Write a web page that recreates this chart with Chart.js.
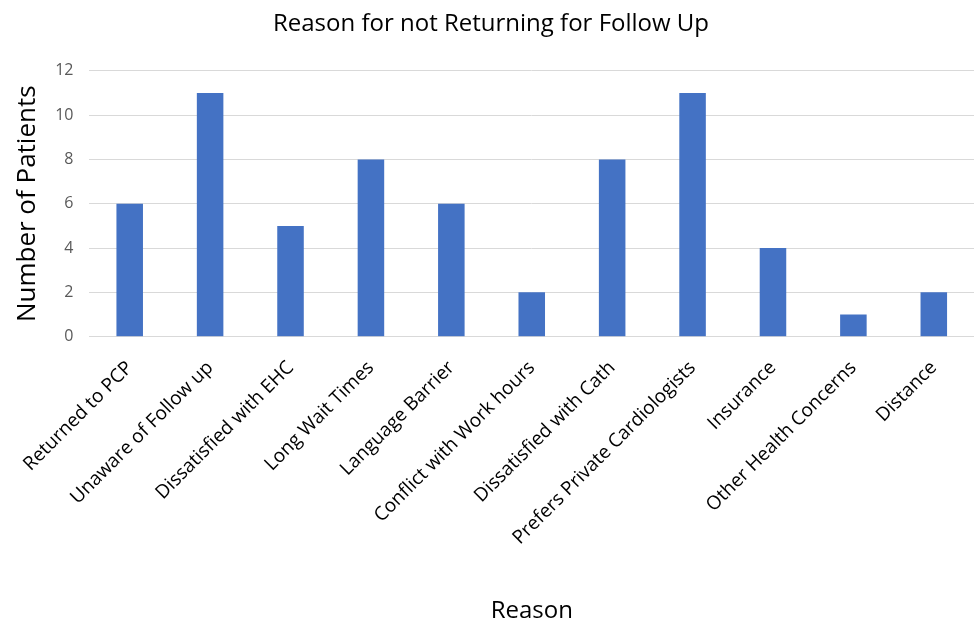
<!DOCTYPE html>
<html>
<head>
<meta charset="utf-8">
<script src="https://cdn.jsdelivr.net/npm/chart.js@4/dist/chart.umd.min.js"></script>
<style>
  html, body { margin: 0; padding: 0; background: #fff; }
  #wrap { width: 974px; height: 626px; }
</style>
</head>
<body>
<div id="wrap"><canvas id="chart1"></canvas></div>
<script>
// chart data
const reasons = ['Returned to PCP', 'Unaware of Follow up', 'Dissatisfied with EHC', 'Long Wait Times',
    'Language Barrier', 'Conflict with Work hours', 'Dissatisfied with Cath', 'Prefers Private Cardiologists',
    'Insurance', 'Other Health Concerns', 'Distance'];
const patients = [6, 11, 5, 8, 6, 2, 8, 11, 4, 1, 2];
const yTicks = [0, 2, 4, 6, 8, 10, 12];

const fontFamily = "'Open Sans', 'Liberation Sans', sans-serif";

function initializeCharts() {
    const ctx1 = document.getElementById('chart1').getContext('2d');
    new Chart(ctx1, {
        type: 'bar',
        data: {
            labels: reasons,
            datasets: [{
                label: 'Number of Patients',
                data: patients,
                backgroundColor: '#4472C4',
                barPercentage: 0.33,
                categoryPercentage: 1
            }]
        },
        options: {
            responsive: true,
            maintainAspectRatio: false,
            animation: false,
            layout: { padding: { left: 8, right: 0, top: 6, bottom: 0 } },
            plugins: {
                legend: { display: false },
                tooltip: { enabled: false },
                title: {
                    display: true,
                    text: 'Reason for not Returning for Follow Up',
                    color: '#000',
                    font: { family: fontFamily, size: 24, weight: 'normal' },
                    padding: { top: 4, bottom: 32 }
                }
            },
            scales: {
                x: {
                    grid: { display: false },
                    border: { display: true, color: '#d9d9d9' },
                    ticks: {
                        color: '#000',
                        font: { family: fontFamily, size: 19 },
                        minRotation: 45,
                        maxRotation: 45,
                        autoSkip: false,
                        padding: 12
                    },
                    title: {
                        display: true,
                        text: 'Reason',
                        color: '#000',
                        font: { family: fontFamily, size: 24 },
                        padding: { top: 36, bottom: 0 }
                    }
                },
                y: {
                    min: 0,
                    max: 12,
                    afterBuildTicks: axis => { axis.ticks = yTicks.map(v => ({ value: v })); },
                    grid: { color: '#d9d9d9', drawTicks: false },
                    border: { display: false },
                    ticks: {
                        color: '#595959',
                        font: { family: fontFamily, size: 16 },
                        padding: 16
                    },
                    title: {
                        display: true,
                        text: 'Number of Patients',
                        color: '#000',
                        font: { family: fontFamily, size: 26 },
                        padding: { bottom: -4 }
                    }
                }
            }
        }
    });
}

window.onload = initializeCharts;
</script>
</body>
</html>
